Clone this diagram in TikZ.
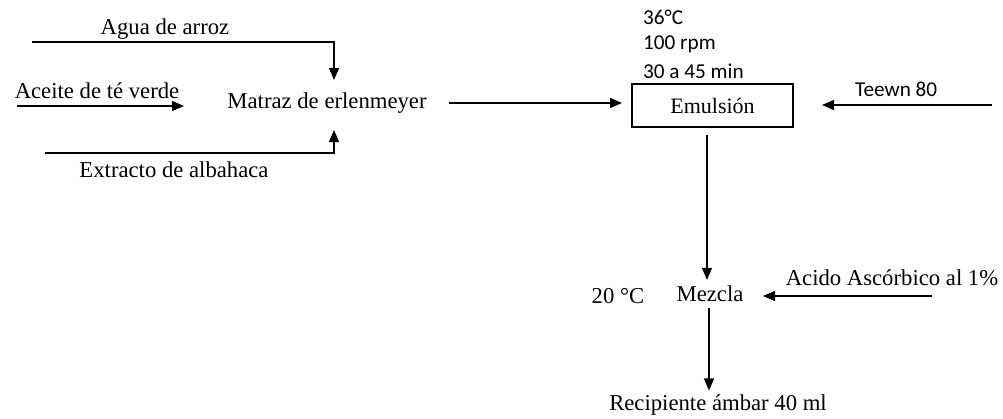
\documentclass[tikz,border=0pt]{standalone}
\usepackage{fontspec}
\setmainfont{Liberation Serif}
\newfontfamily\calib{Carlito}
\usetikzlibrary{arrows.meta,calc}
\begin{document}
\begin{tikzpicture}[x=1pt,y=-1pt,
  lbl/.style={font=\fontsize{22.7}{26}\selectfont, inner sep=0pt},
  clbl/.style={font=\calib\fontsize{21.2}{24}\selectfont, inner sep=0pt, anchor=west},
  arr/.style={line width=1.2pt, -{Triangle[length=12pt,width=10pt]}},
  box/.style={draw, line width=1.2pt, minimum width=161pt, minimum height=43pt, inner sep=0pt, font=\fontsize{22}{26}\selectfont}
]
\useasboundingbox (0,0) rectangle (1003,418);
% texts
\node[lbl] (agua) at (165,29) {Agua de arroz};
\node[lbl] (aceite) at (97,91) {Aceite de té verde};
\node[lbl] (matraz) at (327,103) {Matraz de erlenmeyer};
\node[lbl] (extracto) at (174,170) {Extracto de albahaca};
\node[box] (emul) at (712.5,105.5) {Emulsión};
\node[clbl] (t1) at (643,17) {36°C};
\node[clbl] (t2) at (643,44) {100 rpm};
\node[clbl] (t3) at (643,71) {30 a 45 min};
\node[clbl] (teewn) at (855,89) {Teewn 80};
\node[lbl] (mezcla) at (710,294) {Mezcla};
\node[lbl] (temp) at (618,296) {20 °C};
\node[lbl] (acido) at (892,278) {Acido Ascórbico al 1\%};
\node[lbl] (recip) at (718,405) {Recipiente ámbar 40 ml};
% coordinates
\coordinate (aguaS) at (32,42);
\coordinate (aguaT) at (334,80);
\coordinate (aceS) at (17,106);
\coordinate (aceT) at (184,106);
\coordinate (extS) at (45,153);
\coordinate (extT) at (334,130);
\coordinate (matE) at (449,103);
\coordinate (emW) at (622,103);
\coordinate (teS) at (992,105);
\coordinate (teT) at (822,105);
\coordinate (acS) at (932,296);
\coordinate (acT) at (763,296);
% connectors
\draw[arr] (aguaS) -| (aguaT);
\draw[arr] (aceS) -- (aceT);
\draw[arr] (extS) -| (extT);
\draw[arr] (matE) -- (emW);
\draw[arr] (teS) -- (teT);
\draw[arr] ($(emul.south)+(-5.5,7)$) -- ($(mezcla.north)+(-3,-6)$);
\draw[arr] (acS) -- (acT);
\draw[arr] ($(mezcla.south)+(-1,6)$) -- ($(recip.north)+(-9,-4)$);
\end{tikzpicture}
\end{document}
